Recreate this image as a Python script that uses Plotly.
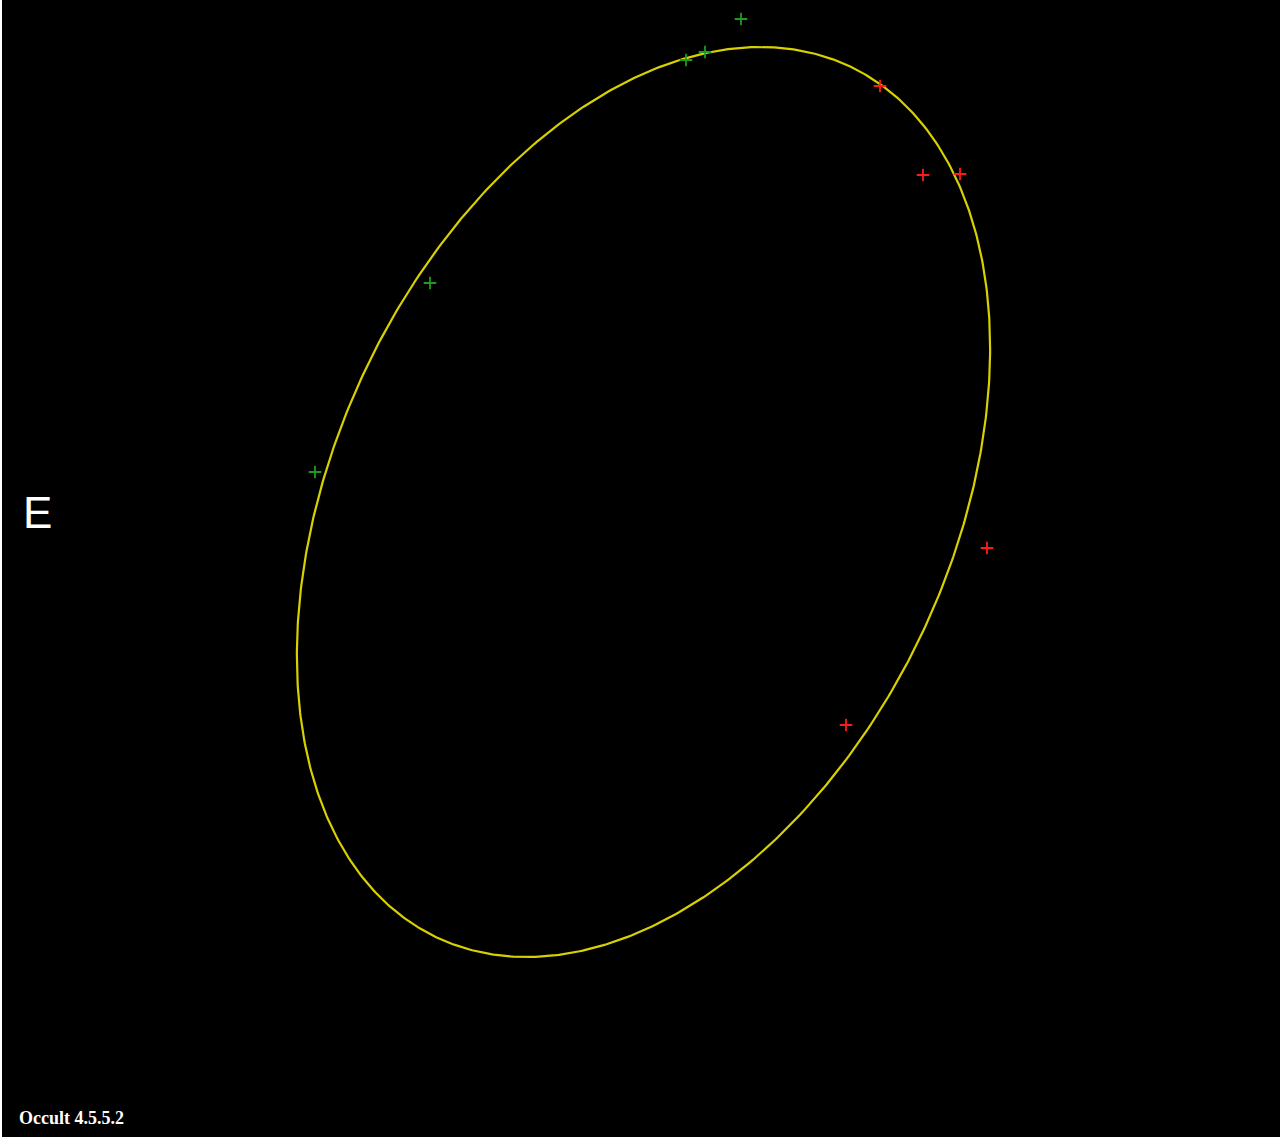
import numpy as np
import plotly.graph_objects as go

# Ellipse (limb profile) parameters, in image-pixel units
ellipse_center = (643.5, 502.0)
ellipse_semi_major = 482.0
ellipse_semi_minor = 308.0
ellipse_tilt_deg = -64.6

# Observed chord end points
green_x = [741, 705, 686, 430, 315]
green_y = [19, 52, 60, 283, 472]
red_x = [880, 923, 960, 987, 846]
red_y = [86, 175, 174, 548, 725]

label_dir = "E"
label_ver = "Occult 4.5.5.2"

t = np.linspace(0, 2 * np.pi, 721)
phi = np.deg2rad(ellipse_tilt_deg)
cx, cy = ellipse_center
ex = cx + ellipse_semi_major * np.cos(t) * np.cos(phi) - ellipse_semi_minor * np.sin(t) * np.sin(phi)
ey = cy + ellipse_semi_major * np.cos(t) * np.sin(phi) + ellipse_semi_minor * np.sin(t) * np.cos(phi)

fig = go.Figure()
fig.add_trace(go.Scatter(x=ex, y=ey, mode="lines",
                         line=dict(color="#d8d000", width=2.2), hoverinfo="skip"))
fig.add_trace(go.Scatter(x=green_x, y=green_y, mode="markers",
                         marker=dict(symbol="cross-thin", size=9,
                                     line=dict(color="#1e9a1e", width=1.8))))
fig.add_trace(go.Scatter(x=red_x, y=red_y, mode="markers",
                         marker=dict(symbol="cross-thin", size=9,
                                     line=dict(color="#ff1a1a", width=1.8))))

fig.add_annotation(x=37, y=512, text=label_dir, showarrow=False,
                   font=dict(family="Liberation Sans, Arial", size=44, color="white"),
                   xanchor="center", yanchor="middle")
fig.add_annotation(x=17, y=1118, text="<b>" + label_ver + "</b>", showarrow=False,
                   font=dict(family="Liberation Serif, Times New Roman", size=18, color="white"),
                   xanchor="left", yanchor="middle")

fig.update_layout(
    width=1280, height=1137,
    margin=dict(l=2, r=0, t=0, b=0),
    paper_bgcolor="white", plot_bgcolor="black",
    showlegend=False,
    xaxis=dict(range=[2, 1280], visible=False, showgrid=False, zeroline=False),
    yaxis=dict(range=[1137, 0], visible=False, showgrid=False, zeroline=False),
)

fig.write_html("out.html", config={"displayModeBar": False},
               post_script="document.body.style.margin='0';document.body.style.overflow='hidden';")
